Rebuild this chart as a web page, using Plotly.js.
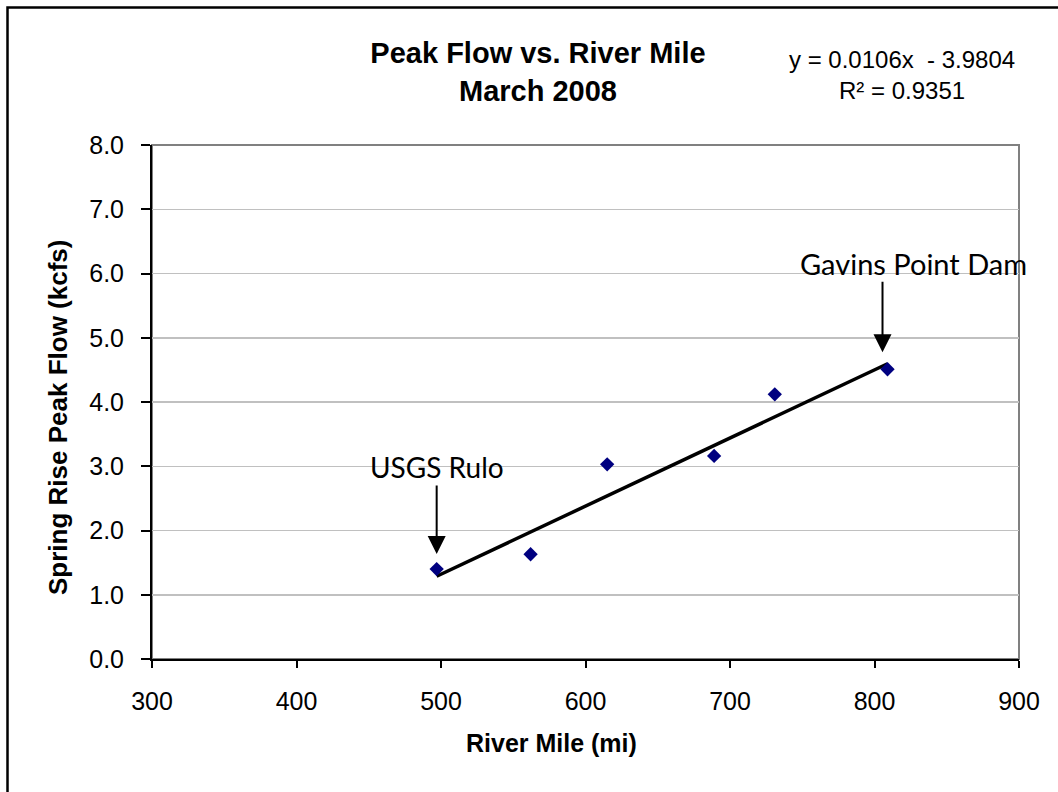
<!DOCTYPE html>
<html>
<head>
<meta charset="utf-8">
<script src="https://cdn.plot.ly/plotly-3.0.1.min.js"></script>
<style>
html,body{margin:0;padding:0;background:#fff;}
#chart{width:1058px;height:792px;}
</style>
</head>
<body>
<div id="chart"></div>
<script>
// Data
const riverMile = [497, 562, 615, 689, 731, 809];
const peakFlow = [1.40, 1.63, 3.03, 3.16, 4.12, 4.51];
const trendSlope = 0.0106;
const trendIntercept = -3.9804;
const trendR2 = 0.9351;
const xTicks = [300, 400, 500, 600, 700, 800, 900];
const yTicks = [0, 1, 2, 3, 4, 5, 6, 7, 8];
const chartTitle = 'Peak Flow vs. River Mile<br>March 2008';
const xTitle = 'River Mile (mi)';
const yTitle = 'Spring Rise Peak Flow (kcfs)';
const labelRulo = 'USGS Rulo';
const labelGavins = 'Gavins Point Dam';

const trendX = [Math.min(...riverMile), Math.max(...riverMile)];
const trendY = trendX.map(x => trendSlope * x + trendIntercept);

// layout geometry (pixels)
const W = 1058, H = 792;
const L = 152, R = 1019, T = 145, B = 659;
const pw = R - L, ph = B - T;
const px = v => (v - L) / pw;
const py = v => (B - v) / ph;

const baseFont = {family: 'Liberation Sans, Arial, sans-serif', color: '#000'};

const traces = [
  {
    x: trendX, y: trendY, mode: 'lines', type: 'scatter',
    line: {color: '#000', width: 3.5}, hoverinfo: 'skip', showlegend: false
  },
  {
    x: riverMile, y: peakFlow, mode: 'markers', type: 'scatter',
    marker: {symbol: 'diamond', color: '#000080', size: 11},
    showlegend: false
  }
];

const layout = {
  width: W, height: H,
  margin: {l: L, r: W - R, t: T, b: H - B, pad: 0},
  paper_bgcolor: '#fff', plot_bgcolor: '#fff',
  showlegend: false,
  title: {
    text: chartTitle,
    font: Object.assign({}, baseFont, {size: 29, weight: 'bold'}),
    x: 538 / W, xanchor: 'center', xref: 'container',
    y: 1 - 63 / H, yanchor: 'middle', yref: 'container'
  },
  xaxis: {
    range: [300, 900], tickvals: xTicks, ticktext: xTicks.map(String),
    showgrid: false, zeroline: false,
    showline: true, linecolor: '#000', linewidth: 2,
    ticks: 'outside', ticklen: 7, tickwidth: 2, tickcolor: '#000',
    tickfont: Object.assign({}, baseFont, {size: 25}),
    ticklabelstandoff: 12,
    title: {text: ''}
  },
  yaxis: {
    range: [0, 8], tickvals: yTicks, ticktext: yTicks.map(v => v.toFixed(1)),
    showgrid: true, gridcolor: '#c0c0c0', gridwidth: 1.5,
    zeroline: false,
    showline: true, linecolor: '#000', linewidth: 2,
    ticks: 'outside', ticklen: 9, tickwidth: 2, tickcolor: '#000',
    tickfont: Object.assign({}, baseFont, {size: 25}),
    ticklabelstandoff: 12,
    title: {text: ''}
  },
  shapes: [
    // plot area border (gray)
    {type: 'rect', xref: 'paper', yref: 'paper', x0: 0, x1: 1, y0: 0, y1: 1,
     line: {color: '#808080', width: 2}, layer: 'below'},
    // outer chart border
    {type: 'rect', xref: 'paper', yref: 'paper',
     x0: px(7.5), x1: px(1070), y0: py(805), y1: py(7.5),
     line: {color: '#000', width: 2.5}}
  ],
  annotations: [
    {
      xref: 'paper', yref: 'paper', x: px(902), y: py(75),
      xanchor: 'center', yanchor: 'middle', showarrow: false,
      text: 'y = ' + trendSlope.toFixed(4) + 'x &nbsp;- ' + Math.abs(trendIntercept).toFixed(4) +
            '<br>R² = ' + trendR2.toFixed(4),
      font: Object.assign({}, baseFont, {size: 24})
    },
    {
      xref: 'paper', yref: 'paper', x: px(551), y: py(743),
      xanchor: 'center', yanchor: 'middle', showarrow: false,
      text: xTitle, font: Object.assign({}, baseFont, {size: 25, weight: 'bold'})
    },
    {
      xref: 'paper', yref: 'paper', x: px(58), y: py(418),
      xanchor: 'center', yanchor: 'middle', showarrow: false, textangle: -90,
      text: yTitle, font: Object.assign({}, baseFont, {size: 26, weight: 'bold'})
    },
    // USGS Rulo label + arrow
    {
      x: riverMile[0], y: peakFlow[0], xref: 'x', yref: 'y',
      text: labelRulo, showarrow: true,
      ax: 0, ay: -102, standoff: 15,
      arrowhead: 2, arrowsize: 1.8, arrowwidth: 2, arrowcolor: '#000',
      font: {family: 'Lato, Open Sans, sans-serif', size: 28, color: '#000'}
    },
    // Gavins Point Dam arrow
    {
      x: riverMile[5], y: peakFlow[5], xref: 'x', yref: 'y',
      text: '', showarrow: true, xshift: -5,
      ax: 0, ay: -89, standoff: 17,
      arrowhead: 2, arrowsize: 1.8, arrowwidth: 2, arrowcolor: '#000'
    },
    // Gavins Point Dam label
    {
      x: riverMile[5], y: peakFlow[5], xref: 'x', yref: 'y',
      text: labelGavins, showarrow: false, xshift: 26, yshift: 106,
      xanchor: 'center', yanchor: 'middle',
      font: {family: 'Lato, Open Sans, sans-serif', size: 29, color: '#000'}
    }
  ]
};

Plotly.newPlot('chart', traces, layout, {displayModeBar: false, staticPlot: true});
</script>
</body>
</html>
